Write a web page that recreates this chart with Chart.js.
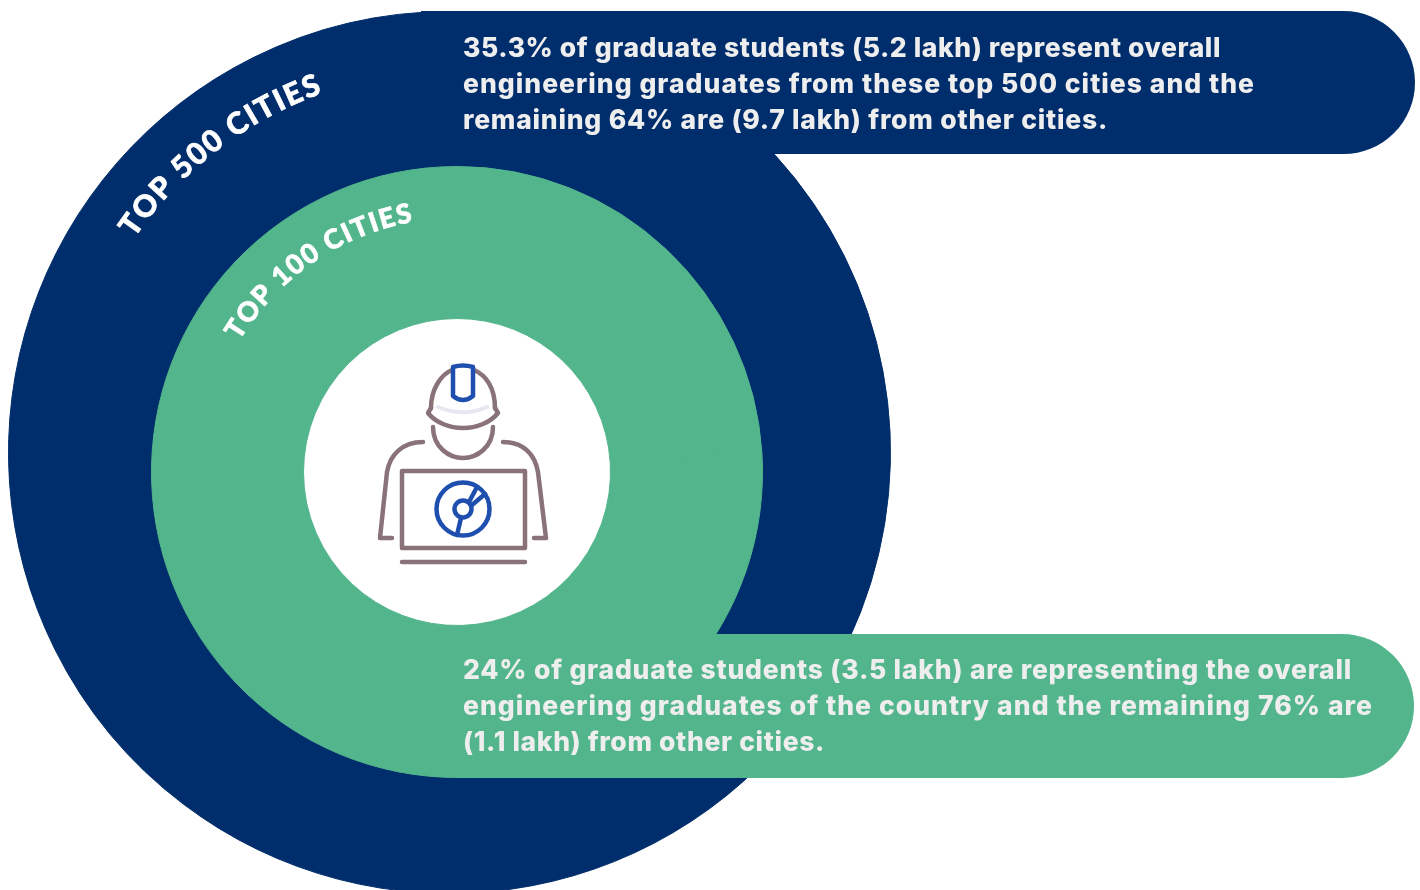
<!DOCTYPE html>
<html>
<head>
<meta charset="utf-8">
<title>Engineering graduates by city tier</title>
<script src="https://cdn.jsdelivr.net/npm/chart.js@4"></script>
<style>
  html, body { margin: 0; padding: 0; background: #fff; }
  #stage { position: relative; width: 1420px; height: 890px; overflow: hidden; background: #fff; }
  #stage canvas { position: absolute; display: block; }
  #outerRing { left: 8px; top: 11px; z-index: 1; }
  #innerRing { left: 151px; top: 166px; z-index: 3; }
  .pill { position: absolute; border-radius: 0 72px 72px 0; }
  #navyPill { left: 421px; top: 11px; width: 994px; height: 143px; background: #002d6b; z-index: 2; }
  #greenPill { left: 457px; top: 634px; width: 957px; height: 144px; background: #53b58c; z-index: 4; }
  .line { position: absolute; left: 463px; white-space: pre; z-index: 5; color: #eeeeee;
          font: 800 26.5px/30px Inter, "Open Sans", sans-serif; }
  svg { position: absolute; left: 0; top: 0; z-index: 6; }
</style>
</head>
<body>
<div id="stage">
  <canvas id="outerRing" width="883" height="883"></canvas>
  <div class="pill" id="navyPill"></div>
  <canvas id="innerRing" width="612" height="612"></canvas>
  <div class="pill" id="greenPill"></div>
  <svg width="1420" height="890" fill="none" stroke-linecap="round" stroke-linejoin="round">
    <g stroke="#8a7378" stroke-width="4.5">
      <path d="M431 408C431 388 442 374 452 370M474 370C486 375 495 388 495 408"/>
      <path d="M431 408L428 413C436 423 450 428 463 428C476 428 490 423 498 413L495 408"/>
      <path d="M433 427C433 447 449 458 463 458C477 458 493 447 493 427"/>
      <path d="M423 442C402 442 390 455 387 472L380 538H392"/>
      <path d="M503 442C524 442 535 455 538 472L546 538H534"/>
      <rect x="402" y="471" width="123" height="77"/>
      <path d="M402 562H525"/>
    </g>
    <path d="M438 407C454 414 472 414 487 407" stroke="#e9e6f2" stroke-width="4"/>
    <g stroke="#1f4fae" stroke-width="4.5">
      <path d="M453 367Q463 364 473 367V396Q463 404 453 396Z"/>
      <circle cx="463" cy="509" r="26.5"/>
      <circle cx="463" cy="509" r="8.5"/>
      <path d="M461 518L457 535M469 502L477 487M472 505L485 494"/>
    </g>
  </svg>
</div>
<script>
// Shares of graduates per city tier, in percent
const ringNames = ['Top 500 cities', 'Other cities'];
const top500Share = [35.3, 64.7];
const top100Share = [24, 76];
const top500Title = 'TOP 500 CITIES';
const top100Title = 'TOP 100 CITIES';
const navyNote = [
  '35.3% of graduate students (5.2 lakh) represent overall',
  'engineering graduates from these top 500 cities and the',
  'remaining 64% are (9.7 lakh) from other cities.'
];
const greenNote = [
  '24% of graduate students (3.5 lakh) are representing the overall',
  'engineering graduates of the country and the remaining 76% are',
  '(1.1 lakh) from other cities.'
];

// Paints the centre hole white and writes the ring's title along its arc
const ringDecor = {
  id: 'ringDecor',
  beforeDatasetsDraw(chart, args, opts) {
    if (!opts.fillHole) return;
    const el = chart.getDatasetMeta(0).data[0];
    const ctx = chart.ctx;
    ctx.save();
    ctx.fillStyle = '#ffffff';
    ctx.beginPath();
    ctx.arc(el.x, el.y, el.innerRadius, 0, Math.PI * 2);
    ctx.fill();
    ctx.restore();
  },
  afterDraw(chart, args, opts) {
    const el = chart.getDatasetMeta(0).data[0];
    const ctx = chart.ctx;
    const chars = [...opts.text];
    ctx.save();
    ctx.font = opts.font;
    ctx.fillStyle = '#ffffff';
    ctx.strokeStyle = '#ffffff';
    ctx.lineWidth = 0.7;
    ctx.textAlign = 'left';
    ctx.textBaseline = 'alphabetic';
    const widths = chars.map(c => ctx.measureText(c).width);
    const natural = widths.reduce((a, b) => a + b, 0);
    const span = (opts.endDeg - opts.startDeg) * Math.PI / 180 * opts.radius;
    const gap = (span - natural) / (chars.length - 1);
    let run = 0;
    chars.forEach((c, i) => {
      const a = (opts.startDeg * Math.PI / 180) + (run + widths[i] / 2) / opts.radius;
      ctx.save();
      ctx.translate(el.x + Math.sin(a) * opts.radius, el.y - Math.cos(a) * opts.radius);
      ctx.rotate(a);
      ctx.fillText(c, -widths[i] / 2, 0);
      ctx.strokeText(c, -widths[i] / 2, 0);
      ctx.restore();
      run += widths[i] + gap;
    });
    ctx.restore();
  }
};

function makeRing(id, values, color, cutout, decor) {
  return new Chart(document.getElementById(id), {
    type: 'doughnut',
    data: {
      labels: ringNames,
      datasets: [{ data: values, backgroundColor: color, borderColor: color, borderWidth: 1 }]
    },
    options: {
      responsive: false,
      animation: false,
      cutout,
      layout: { padding: 0 },
      plugins: { legend: { display: false }, tooltip: { enabled: false }, ringDecor: decor }
    },
    plugins: [ringDecor]
  });
}

makeRing('outerRing', top500Share, '#002d6b', '50%', {
  text: top500Title, font: '900 30px Lato, sans-serif', radius: 381, startDeg: -55.8, endDeg: -19.5, fillHole: false
});
makeRing('innerRing', top100Share, '#53b58c', 153.5, {
  text: top100Title, font: '900 27px Lato, sans-serif', radius: 254, startDeg: -59, endDeg: -10, fillHole: true
});

// Callout text: each line is spaced out to span its measured width
const stage = document.getElementById('stage');
const ruler = document.createElement('canvas').getContext('2d');
ruler.font = '800 26.5px Inter, "Open Sans", sans-serif';
function placeLines(lines, spans, firstTop) {
  lines.forEach((text, i) => {
    const div = document.createElement('div');
    div.className = 'line';
    div.textContent = text;
    div.style.top = (firstTop + i * 36) + 'px';
    div.style.letterSpacing = ((spans[i] - ruler.measureText(text).width) / text.length) + 'px';
    stage.appendChild(div);
  });
}
placeLines(navyNote, [758, 792, 645], 32);
placeLines(greenNote, [889, 910, 362], 654);
</script>
</body>
</html>
